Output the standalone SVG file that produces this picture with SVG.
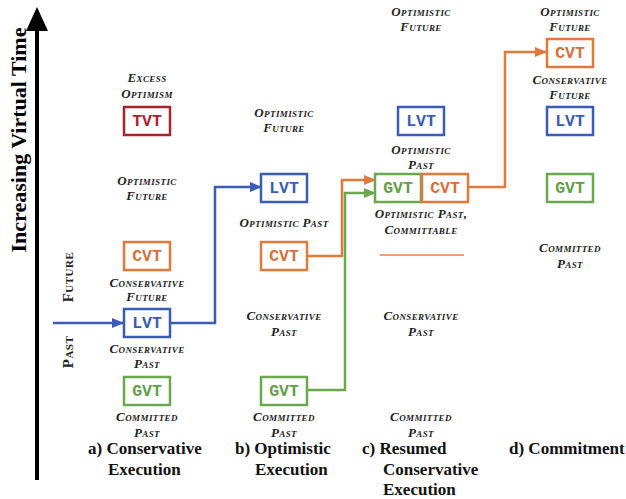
<svg xmlns="http://www.w3.org/2000/svg" width="626" height="499" viewBox="0 0 626 499">
<style>
.lbl{font-family:"Liberation Serif",serif;font-weight:bold;font-style:italic;font-variant:small-caps;font-size:13px;letter-spacing:0.4px;fill:#222;text-anchor:middle}
.side{font-family:"Liberation Serif",serif;font-weight:bold;font-variant:small-caps;font-size:15px;letter-spacing:0.5px;fill:#222;text-anchor:middle}
.cap{font-family:"Liberation Serif",serif;font-weight:bold;font-size:17px;fill:#111}
.box{fill:#fff;stroke-width:2.5}
.bt{font-family:"Liberation Mono","Courier New",monospace;font-weight:bold;font-size:16.5px;text-anchor:middle}
.red{stroke:#a8242c}.redt{fill:#a8242c}
.org{stroke:#e07a3c}.orgt{fill:#d9703a}
.blu{stroke:#3b5cb4}.blut{fill:#3b5cb4}
.grn{stroke:#6aa84f}.grnt{fill:#62a046}
.conn{fill:none;stroke-width:2.5}
</style>
<defs>
<marker id="ab" markerWidth="12" markerHeight="10" refX="11" refY="5" orient="auto" markerUnits="userSpaceOnUse"><path d="M0,0 L12,5 L0,10 z" fill="#3b5cb4"/></marker>
<marker id="ao" markerWidth="12" markerHeight="10" refX="11" refY="5" orient="auto" markerUnits="userSpaceOnUse"><path d="M0,0 L12,5 L0,10 z" fill="#e07a3c"/></marker>
<marker id="ag" markerWidth="12" markerHeight="10" refX="11" refY="5" orient="auto" markerUnits="userSpaceOnUse"><path d="M0,0 L12,5 L0,10 z" fill="#6aa84f"/></marker>
</defs>

<g id="axis">
<line x1="37" y1="480" x2="37" y2="28" stroke="#000" stroke-width="4"/>
<path d="M26,31 L37,7 L48,31 z" fill="#000"/>
<text transform="translate(26,140) rotate(-90)" font-family="Liberation Serif, serif" font-weight="bold" font-size="22" text-anchor="middle" fill="#000">Increasing Virtual Time</text>
<text class="side" transform="translate(73,277) rotate(-90)">Future</text>
<text class="side" transform="translate(73,352) rotate(-90)">Past</text>
</g>

<g id="connectors">
<line class="conn blu" x1="53" y1="323" x2="123" y2="323" marker-end="url(#ab)"/>
<polyline class="conn blu" points="170,323 215,323 215,187 261,187" marker-end="url(#ab)"/>
<polyline class="conn org" points="307,256 342,256 342,180 375,180" marker-end="url(#ao)"/>
<polyline class="conn grn" points="307,390 345,390 345,193 375,193" marker-end="url(#ag)"/>
<polyline class="conn org" points="468,187 505,187 505,52 546,52" marker-end="url(#ao)"/>
<line x1="380" y1="255" x2="464" y2="255" stroke="#e8a07a" stroke-width="2"/>
</g>

<g id="col-a">
<text class="lbl" x="147" y="82">Excess</text>
<text class="lbl" x="147" y="98">Optimism</text>
<g id="a-tvt"><rect class="box red" x="124" y="107" width="46" height="28"/><text class="bt redt" x="147" y="126">TVT</text></g>
<text class="lbl" x="147" y="185">Optimistic</text>
<text class="lbl" x="147" y="200">Future</text>
<g id="a-cvt"><rect class="box org" x="124" y="242" width="46" height="28"/><text class="bt orgt" x="147" y="261">CVT</text></g>
<text class="lbl" x="147" y="287">Conservative</text>
<text class="lbl" x="147" y="301">Future</text>
<g id="a-lvt"><rect class="box blu" x="124" y="309" width="46" height="28"/><text class="bt blut" x="147" y="328">LVT</text></g>
<text class="lbl" x="147" y="353">Conservative</text>
<text class="lbl" x="147" y="368">Past</text>
<g id="a-gvt"><rect class="box grn" x="124" y="377" width="46" height="28"/><text class="bt grnt" x="147" y="396">GVT</text></g>
<text class="lbl" x="147" y="421">Committed</text>
<text class="lbl" x="147" y="437">Past</text>
<text class="cap" x="88" y="454">a) Conservative</text>
<text class="cap" x="108" y="475">Execution</text>
</g>

<g id="col-b">
<text class="lbl" x="284" y="117">Optimistic</text>
<text class="lbl" x="284" y="132">Future</text>
<g id="b-lvt"><rect class="box blu" x="261" y="174" width="46" height="28"/><text class="bt blut" x="284" y="193">LVT</text></g>
<text class="lbl" x="284" y="227">Optimistic Past</text>
<g id="b-cvt"><rect class="box org" x="261" y="242" width="46" height="28"/><text class="bt orgt" x="284" y="261">CVT</text></g>
<text class="lbl" x="284" y="320">Conservative</text>
<text class="lbl" x="284" y="336">Past</text>
<g id="b-gvt"><rect class="box grn" x="261" y="377" width="46" height="28"/><text class="bt grnt" x="284" y="396">GVT</text></g>
<text class="lbl" x="284" y="421">Committed</text>
<text class="lbl" x="284" y="437">Past</text>
<text class="cap" x="235" y="454">b) Optimistic</text>
<text class="cap" x="255" y="475">Execution</text>
</g>

<g id="col-c">
<text class="lbl" x="421" y="16">Optimistic</text>
<text class="lbl" x="421" y="31">Future</text>
<g id="c-lvt"><rect class="box blu" x="398" y="107" width="46" height="28"/><text class="bt blut" x="421" y="126">LVT</text></g>
<text class="lbl" x="421" y="154">Optimistic</text>
<text class="lbl" x="421" y="169">Past</text>
<g id="c-gvt"><rect class="box grn" x="375" y="174" width="46" height="28"/><text class="bt grnt" x="398" y="193">GVT</text></g>
<g id="c-cvt"><rect class="box org" x="422" y="174" width="46" height="28"/><text class="bt orgt" x="445" y="193">CVT</text></g>
<text class="lbl" x="421" y="218">Optimistic Past,</text>
<text class="lbl" x="421" y="234">Committable</text>
<text class="lbl" x="421" y="320">Conservative</text>
<text class="lbl" x="421" y="336">Past</text>
<text class="lbl" x="421" y="421">Committed</text>
<text class="lbl" x="421" y="437">Past</text>
<text class="cap" x="362" y="454">c) Resumed</text>
<text class="cap" x="383" y="475">Conservative</text>
<text class="cap" x="383" y="495">Execution</text>
</g>

<g id="col-d">
<text class="lbl" x="570" y="16">Optimistic</text>
<text class="lbl" x="570" y="31">Future</text>
<g id="d-cvt"><rect class="box org" x="547" y="39" width="46" height="28"/><text class="bt orgt" x="570" y="58">CVT</text></g>
<text class="lbl" x="570" y="84">Conservative</text>
<text class="lbl" x="570" y="99">Future</text>
<g id="d-lvt"><rect class="box blu" x="547" y="107" width="46" height="28"/><text class="bt blut" x="570" y="126">LVT</text></g>
<g id="d-gvt"><rect class="box grn" x="547" y="174" width="46" height="28"/><text class="bt grnt" x="570" y="193">GVT</text></g>
<text class="lbl" x="570" y="252">Committed</text>
<text class="lbl" x="570" y="268">Past</text>
<text class="cap" x="509" y="454">d) Commitment</text>
</g>
</svg>
